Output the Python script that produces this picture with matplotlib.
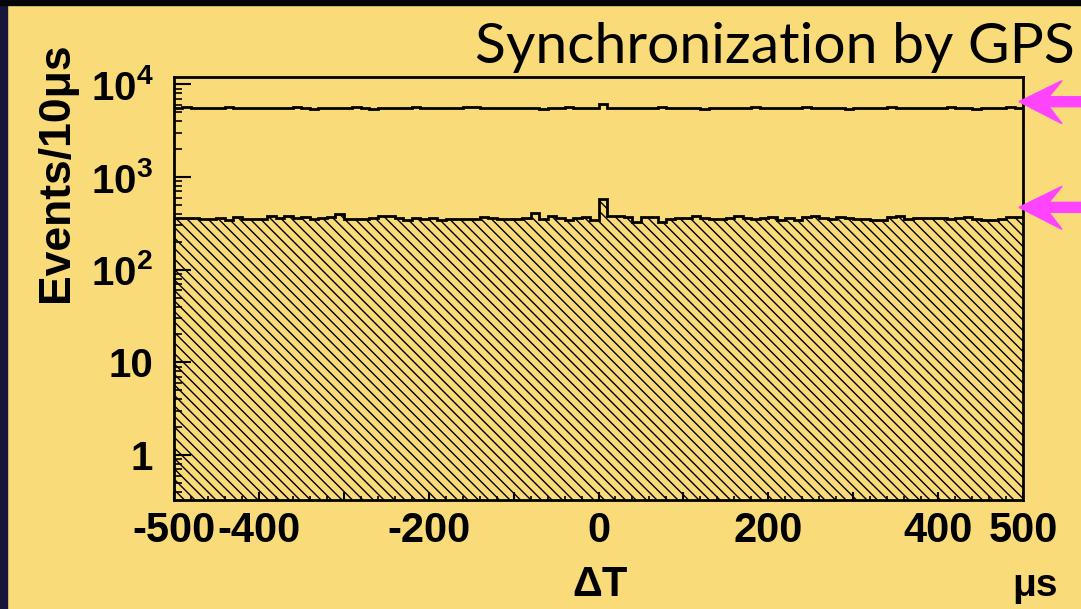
import numpy as np
import matplotlib.pyplot as plt
from matplotlib.patches import Rectangle, Polygon
from matplotlib.collections import LineCollection
from matplotlib.ticker import FixedLocator, FixedFormatter, LogLocator, NullFormatter

BG = '#f9db7a'
ARROW = '#ff44ff'

# 10 us bins from -500 to 500 us
edges = np.arange(-500, 501, 10)

# all coincidences (open histogram)
all_counts = [5600, 5650, 5600, 5580, 5620, 5600, 5650, 5590, 5600, 5620,
              5600, 5580, 5620, 5600, 5650, 5600, 5450, 5600, 5620, 5580,
              5600, 5650, 5600, 5480, 5600, 5620, 5600, 5580, 5640, 5600,
              5600, 5580, 5620, 5600, 5650, 5700, 5600, 5580, 5600, 5620,
              5600, 5560, 5620, 5480, 5600, 5600, 5650, 5600, 5580, 5600,
              6150, 5600, 5560, 5600, 5620, 5580, 5600, 5650, 5600, 5600,
              5620, 5580, 5450, 5600, 5620, 5600, 5580, 5600, 5650, 5600,
              5600, 5620, 5580, 5600, 5650, 5600, 5560, 5600, 5620, 5480,
              5600, 5620, 5600, 5580, 5650, 5600, 5600, 5620, 5580, 5600,
              5600, 5650, 5600, 5580, 5480, 5600, 5620, 5600, 5650, 5600]

# selected events (hatched histogram)
sel_counts = [363, 363, 358, 351, 351, 363, 341, 370, 351, 351,
              355, 376, 358, 379, 358, 366, 348, 358, 370, 398,
              351, 351, 355, 358, 379, 376, 363, 341, 358, 351,
              363, 344, 351, 351, 351, 351, 370, 363, 351, 351,
              355, 358, 405, 351, 376, 363, 345, 358, 370, 341,
              578, 379, 379, 370, 329, 373, 370, 329, 351, 358,
              358, 376, 358, 351, 351, 358, 376, 358, 351, 358,
              366, 340, 363, 340, 373, 376, 363, 351, 370, 358,
              351, 351, 345, 345, 366, 382, 351, 358, 358, 363,
              363, 351, 358, 373, 351, 343, 340, 351, 366, 366]

xtick_pos = [-500, -400, -300, -200, -100, 0, 100, 200, 300, 400, 500]
xtick_lab = ['-500', '-400', '', '-200', '', '0', '', '200', '', '400', '500']
ytick_pos = [1, 10, 100, 1000, 10000]
ytick_lab = ['1', '10', r'$\mathbf{10^{2}}$', r'$\mathbf{10^{3}}$', r'$\mathbf{10^{4}}$']

plt.rcParams['mathtext.fontset'] = 'custom'
plt.rcParams['mathtext.rm'] = 'Liberation Sans'
plt.rcParams['mathtext.bf'] = 'Liberation Sans:bold'

W, H = 1081, 609
fig = plt.figure(figsize=(W / 100, H / 100), dpi=100, facecolor=BG)

# dark slide border on the left and top
fig.patches.append(Rectangle((0, 0), 7 / W, 1, transform=fig.transFigure,
                             color='#16163a', zorder=0))
fig.patches.append(Rectangle((0, 1 - 5 / H), 1, 5 / H, transform=fig.transFigure,
                             color='#050508', zorder=0))

ax_w, ax_h = 849, 423
ax = fig.add_axes([174 / W, 109 / H, ax_w / W, ax_h / H])
ax.set_facecolor('none')
ax.set_yscale('log')
ax.set_xlim(-500, 500)
ax.set_ylim(0.327, 12000)

fill = ax.stairs(sel_counts, edges, baseline=1e-3, fill=True, facecolor='none',
                 linewidth=0)
ax.stairs(sel_counts, edges, baseline=None, color='black', linewidth=2)
ax.stairs(all_counts, edges, baseline=None, color='black', linewidth=2)

# ROOT-style 45 degree hatching, clipped to the selected histogram
step = 10.5
segs = []
for c in np.arange(-ax_h, ax_w + step, step):
    segs.append([(c / ax_w, 1.0), ((c + ax_h) / ax_w, 0.0)])
hatch = LineCollection(segs, colors='black', linewidths=1.0,
                       transform=ax.transAxes)
ax.add_collection(hatch)
hatch.set_clip_path(fill)

for s in ax.spines.values():
    s.set_linewidth(2)
    s.set_zorder(4)

ax.xaxis.set_major_locator(FixedLocator(xtick_pos))
ax.xaxis.set_major_formatter(FixedFormatter(xtick_lab))
ax.xaxis.set_minor_locator(FixedLocator(np.arange(-500, 501, 20)))
ax.yaxis.set_major_locator(FixedLocator(ytick_pos))
ax.yaxis.set_major_formatter(FixedFormatter(ytick_lab))
ax.yaxis.set_minor_locator(LogLocator(base=10, subs=np.arange(2, 10)))
ax.yaxis.set_minor_formatter(NullFormatter())

ax.tick_params(axis='x', which='major', direction='in', length=6, width=1.5,
               pad=8, labelsize=30)
ax.tick_params(axis='x', which='minor', direction='in', length=3, width=1.2)
ax.tick_params(axis='y', which='major', direction='in', length=12, width=1.5,
               pad=15, labelsize=29)
ax.tick_params(axis='y', which='minor', direction='in', length=6, width=1.2)
for lab in ax.get_xticklabels() + ax.get_yticklabels():
    lab.set_family('Liberation Sans')
    lab.set_fontweight('bold')

fig.text(57 / W, 1 - 172 / H, 'Events/10μs', rotation=90, ha='center', va='center',
         family='Liberation Sans', fontweight='bold', fontsize=32)
fig.text(600 / W, 1 - 585 / H, 'ΔT', ha='center', va='center',
         family='Liberation Sans', fontweight='bold', fontsize=30)
fig.text(1035 / W, 1 - 586 / H, 'μs', ha='center', va='center',
         family='Liberation Sans', fontweight='bold', fontsize=28)
fig.text(475 / W, 1 - 63 / H, 'Synchronization by GPS', ha='left', va='baseline',
         family='Lato', fontsize=41)

# magenta arrows pointing at the two histogram levels
fig.canvas.draw()
for level, lift in [(np.median(all_counts), 6), (np.median(sel_counts), 11)]:
    tx, ty = ax.transData.transform((500, level))
    tx -= 4
    ty += lift
    shape = [(0, 0), (43, 21), (30, 5), (80, 5), (80, -5), (30, -5), (43, -22)]
    verts = [(tx + dx, ty + dy) for dx, dy in shape]
    fig.patches.append(Polygon(verts, closed=True, transform=None,
                               color=ARROW, zorder=5))

fig.savefig('out.png', dpi=100, facecolor=BG)
